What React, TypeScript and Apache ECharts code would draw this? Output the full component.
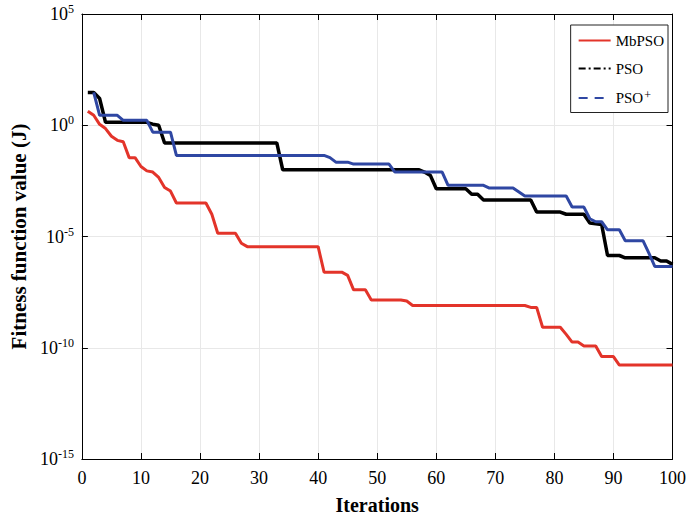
import React, { useEffect, useRef } from "react";
import * as echarts from "echarts";

// Iteration / fitness breakpoints
const mbIter = [1, 2, 3, 4, 5, 6, 7, 8, 9, 10, 11, 12, 13, 14, 15, 16, 21, 22, 23, 26, 27, 28, 40, 41, 44, 45, 46, 48, 49, 54, 55, 56, 75, 76, 77, 78, 81, 82, 83, 84, 85, 87, 88, 90, 91, 100];
const mbVal = [4.3, 2.8, 1.1, 0.71, 0.32, 0.21, 0.18, 0.035, 0.035, 0.014, 0.0089, 0.0079, 0.0045, 0.0016, 0.0011, 3.2e-4, 3.2e-4, 1.0e-4, 1.4e-5, 1.4e-5, 5.0e-6, 3.5e-6, 3.5e-6, 2.5e-7, 2.5e-7, 1.8e-7, 4.0e-8, 4.0e-8, 1.4e-8, 1.4e-8, 1.26e-8, 7.9e-9, 7.9e-9, 6.5e-9, 6.5e-9, 8.3e-10, 8.3e-10, 4.0e-10, 1.8e-10, 1.8e-10, 1.2e-10, 1.2e-10, 4.0e-11, 4.0e-11, 1.66e-11, 1.66e-11];

const psoIter = [1, 2, 3, 4, 11, 12, 13, 14, 33, 34, 57, 58, 59, 60, 65, 66, 67, 68, 76, 77, 81, 82, 85, 86, 88, 89, 91, 92, 97, 98, 99, 100];
const psoVal = [30, 30, 16, 1.35, 1.35, 1.12, 1.0, 0.16, 0.16, 0.01, 0.01, 0.0079, 0.0056, 0.0014, 0.0014, 7.9e-4, 7.9e-4, 4.4e-4, 4.4e-4, 1.26e-4, 1.26e-4, 1.0e-4, 1.0e-4, 4.0e-5, 3.5e-5, 1.4e-6, 1.4e-6, 1.1e-6, 1.1e-6, 7.9e-7, 7.9e-7, 5.6e-7];

const psoPlusIter = [2, 3, 6, 7, 11, 12, 15, 16, 41, 42, 43, 45, 46, 52, 53, 61, 62, 68, 69, 73, 74, 75, 82, 83, 85, 86, 87, 88, 89, 91, 92, 95, 96, 97, 100];
const psoPlusVal = [30, 2.8, 2.8, 1.66, 1.66, 0.49, 0.49, 0.044, 0.044, 0.035, 0.022, 0.022, 0.018, 0.018, 0.0079, 0.0079, 0.002, 0.002, 0.0015, 0.0015, 0.001, 6.6e-4, 6.6e-4, 2.1e-4, 2.1e-4, 6.3e-5, 4.6e-5, 4.6e-5, 2.0e-5, 2.0e-5, 6.5e-6, 6.5e-6, 1.8e-6, 4.5e-7, 4.5e-7];

const seriesNames = ["MbPSO", "PSO", "PSO+"];
const xTicks = [0, 10, 20, 30, 40, 50, 60, 70, 80, 90, 100];

const FONT = "Liberation Serif";

function pairs(xs: number[], ys: number[]) {
  return xs.map((x, i) => [x, ys[i]]);
}

export default function App() {
  const ref = useRef<HTMLDivElement>(null);
  useEffect(() => {
    if (!ref.current) return;
    const chart = echarts.init(ref.current, undefined, { renderer: "svg" });
    const gridColor = "#e8e8e8";
    const yFmt = (v: number) => {
      const e = Math.round(Math.log10(v));
      return `{b|10}{s|${e}}`;
    };
    const rich = {
      b: { fontFamily: FONT, fontSize: 18, color: "#000" },
      s: { fontFamily: FONT, fontSize: 12, color: "#000", padding: [0, 0, 10, 0] },
    };
    chart.setOption({
      animation: false,
      backgroundColor: "#fff",
      grid: { left: 72, right: 15, top: 14, bottom: 59, containLabel: false },
      legend: {
        orient: "vertical",
        right: 21,
        top: 25,
        itemWidth: 32,
        itemHeight: 14,
        itemGap: 13,
        padding: [8, 4, 7, 7],
        borderColor: "#222",
        borderWidth: 1,
        backgroundColor: "#fff",
        itemStyle: { color: "rgba(0,0,0,0)", opacity: 0, borderWidth: 0 },
        data: [
          { name: "MbPSO" },
          { name: "PSO", lineStyle: { type: [7, 3, 2, 3] } },
          { name: "PSO+", lineStyle: { type: [9, 7] } },
        ],
        formatter: (n: string) => (n === "PSO+" ? "{t|PSO}{p|+}" : `{t|${n}}`),
        textStyle: {
          fontFamily: FONT,
          fontSize: 15,
          color: "#000",
          rich: {
            t: { fontFamily: FONT, fontSize: 15, color: "#000" },
            p: { fontFamily: FONT, fontSize: 12, color: "#000", padding: [0, 0, 6, 1] },
          },
        },
      },
      xAxis: [
        {
          type: "value",
          min: 0,
          max: 100,
          interval: 10,
          name: "Iterations",
          nameLocation: "middle",
          nameGap: 36,
          nameTextStyle: { fontFamily: FONT, fontSize: 20, fontWeight: "bold", color: "#000" },
          axisLine: { show: true, lineStyle: { color: "#000", width: 1 } },
          axisTick: { show: true, inside: true, length: 6, lineStyle: { color: "#000" } },
          axisLabel: {
            fontFamily: FONT,
            fontSize: 18,
            color: "#000",
            margin: 10,
            formatter: (v: number) => (xTicks.includes(v) ? String(v) : ""),
          },
          splitLine: { show: true, lineStyle: { color: gridColor, width: 1 } },
        },
        {
          type: "value",
          position: "top",
          min: 0,
          max: 100,
          interval: 10,
          axisLine: { show: true, onZero: false, lineStyle: { color: "#000", width: 1 } },
          axisTick: { show: true, inside: true, length: 6, lineStyle: { color: "#000" } },
          axisLabel: { show: false },
          splitLine: { show: false },
        },
      ],
      yAxis: [
        {
          type: "log",
          logBase: 10,
          min: 1e-15,
          max: 1e5,
          interval: 5,
          name: "Fitness function value (J)",
          nameLocation: "middle",
          nameGap: 46,
          nameRotate: 90,
          nameTextStyle: { fontFamily: FONT, fontSize: 21, fontWeight: "bold", color: "#000" },
          axisLine: { show: true, lineStyle: { color: "#000", width: 1 } },
          axisTick: { show: true, inside: true, length: 6, lineStyle: { color: "#000" } },
          axisLabel: { formatter: yFmt, rich, margin: 8, showMinLabel: true, showMaxLabel: true },
          splitLine: { show: true, lineStyle: { color: gridColor, width: 1 } },
          minorTick: { show: false },
        },
        {
          type: "log",
          logBase: 10,
          min: 1e-15,
          max: 1e5,
          interval: 5,
          position: "right",
          axisLine: { show: true, onZero: false, lineStyle: { color: "#000", width: 1 } },
          axisTick: { show: true, inside: true, length: 6, lineStyle: { color: "#000" } },
          axisLabel: { show: false },
          splitLine: { show: false },
        },
      ],
      series: [
        {
          name: seriesNames[0],
          type: "line",
          data: pairs(mbIter, mbVal),
          showSymbol: false,
          symbol: "none",
          color: "#e3342a",
          lineStyle: { color: "#e3342a", width: 3 },
          z: 2,
        },
        {
          name: seriesNames[1],
          type: "line",
          data: pairs(psoIter, psoVal),
          showSymbol: false,
          symbol: "none",
          color: "#000",
          lineStyle: { color: "#000", width: 3.5 },
          z: 3,
        },
        {
          name: seriesNames[2],
          type: "line",
          data: pairs(psoPlusIter, psoPlusVal),
          showSymbol: false,
          symbol: "none",
          color: "#2f47a3",
          lineStyle: { color: "#2f47a3", width: 3 },
          z: 4,
        },
      ],
    });
    return () => chart.dispose();
  }, []);
  return (
    <div
      ref={ref}
      style={{ position: "fixed", left: 0, top: 0, width: 689, height: 520, background: "#fff" }}
    />
  );
}
